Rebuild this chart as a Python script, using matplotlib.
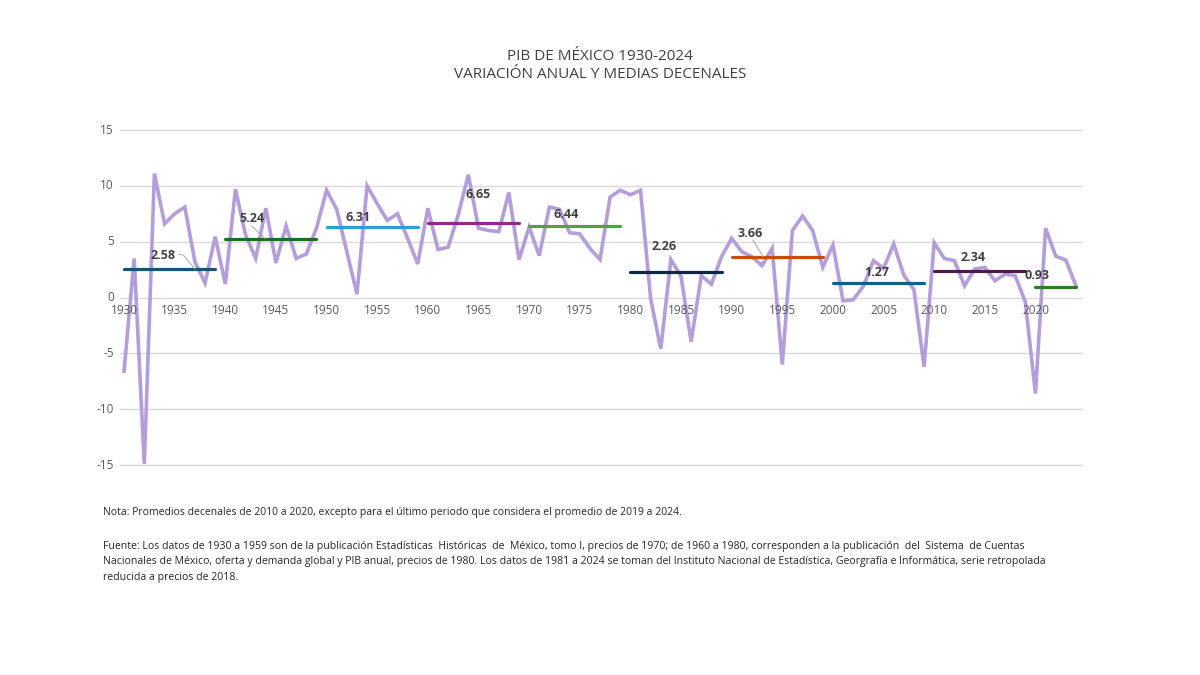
import numpy as np
import matplotlib
matplotlib.use("Agg")
from matplotlib import pyplot as plt

# variacion anual del PIB (%)
years = list(range(1930, 2025))
pib = [
    -6.6, 3.5, -14.9, 11.1, 6.6, 7.5, 8.1, 3.2, 1.3, 5.45,
    1.2, 9.7, 5.6, 3.5, 8.0, 3.1, 6.4, 3.5, 3.9, 6.2,
    9.6, 7.9, 4.1, 0.3, 10.0, 8.4, 6.9, 7.5, 5.3, 3.0,
    8.0, 4.3, 4.5, 7.4, 11.0, 6.2, 6.0, 5.9, 9.4, 3.4,
    6.3, 3.75, 8.1, 7.9, 5.8, 5.7, 4.4, 3.4, 9.0, 9.6,
    9.2, 9.6, -0.1, -4.6, 3.4, 1.9, -3.95, 1.95, 1.2, 3.65,
    5.3, 4.1, 3.65, 2.85, 4.4, -6.0, 6.0, 7.3, 6.0, 2.7,
    4.7, -0.3, -0.2, 1.0, 3.3, 2.6, 4.8, 2.0, 0.7, -6.2,
    4.9, 3.5, 3.3, 1.05, 2.55, 2.7, 1.5, 2.1, 1.95, -0.4,
    -8.6, 6.2, 3.7, 3.35, 1.05,
]

# medias decenales
dec_start = [1930, 1940, 1950, 1960, 1970, 1980, 1990, 2000, 2010, 2020]
dec_end = [1939, 1949, 1959, 1969, 1979, 1989, 1999, 2009, 2019, 2024]
dec_mean = [2.58, 5.24, 6.31, 6.65, 6.44, 2.26, 3.66, 1.27, 2.34, 0.93]
dec_colors = ["#1F4E79", "#1E6B23", "#2E9FD3", "#8E2A8E", "#4EA72E",
              "#0E2841", "#C04F15", "#156082", "#4E1A4A", "#2F7A23"]

# posicion de las etiquetas (centro del texto)
label_pos = [(1933.8, 3.8), (1942.6, 7.1), (1953.1, 7.2), (1965.0, 9.2),
             (1973.7, 7.4), (1983.3, 4.55), (1991.8, 5.75), (2004.3, 2.25),
             (2013.8, 3.6), (2020.2, 1.95)]
# lineas guia de algunas etiquetas
leaders = {
    0: [(1935.4, 3.87), (1935.85, 3.8), (1937.0, 2.55)],
    1: [(1942.6, 6.4), (1943.9, 5.3)],
    6: [(1992.1, 5.15), (1993.1, 3.65)],
}

ticks_x = list(range(1930, 2021, 5))
ticks_y = [-15, -10, -5, 0, 5, 10, 15]

plt.rcParams['font.family'] = ['Open Sans', 'DejaVu Sans']

fig = plt.figure(figsize=(12, 6.75), dpi=100)
ax = fig.add_axes([0.1, 0.3111, 0.8017, 0.4963])

for t in ticks_y:
    ax.axhline(t, color="#D9D9D9", lw=1.0, zorder=0, clip_on=False)
    ax.text(1929.0, t, str(t), ha="right", va="center", fontsize=8.5, color="#595959")

ax.plot(years, pib, color="#B39DDB", lw=2.6, solid_joinstyle="miter", zorder=2,
        clip_on=False)

for i in range(len(dec_mean)):
    ax.plot([dec_start[i], dec_end[i]], [dec_mean[i], dec_mean[i]],
            color=dec_colors[i], lw=2.3, solid_capstyle="round", zorder=3)
    lx, ly = label_pos[i]
    ax.text(lx, ly, f"{dec_mean[i]:.2f}", ha="center", va="center",
            fontsize=9, fontweight="bold", color="#404040", zorder=4)

for k, pts in leaders.items():
    xs, ys = zip(*pts)
    ax.plot(xs, ys, color="#A6A6A6", lw=0.7, zorder=3)

for t in ticks_x:
    ax.text(t, -0.6, str(t), ha="center", va="top", fontsize=8.5, color="#595959")

ax.set_xlim(1929.6, 2024.6)
ax.set_ylim(-15, 15)
ax.axis("off")

fig.text(0.5, 0.9105, "PIB DE MÉXICO 1930-2024", ha="center", va="baseline",
         fontsize=11, color="#404040")
fig.text(0.5, 0.884, "VARIACIÓN ANUAL Y MEDIAS DECENALES", ha="center", va="baseline",
         fontsize=11, color="#404040")

nota = ("Nota: Promedios decenales de 2010 a 2020, excepto para el último periodo "
        "que considera el promedio de 2019 a 2024.")
fuente = ("Fuente: Los datos de 1930 a 1959 son de la publicación Estadísticas  Históricas  de  México, "
          "tomo I, precios de 1970; de 1960 a 1980, corresponden a la publicación  del  Sistema  de Cuentas\n"
          "Nacionales de México, oferta y demanda global y PIB anual, precios de 1980. Los datos de 1981 a 2024 "
          "se toman del Instituto Nacional de Estadística, Georgrafía e Informática, serie retropolada\n"
          "reducida a precios de 2018.")
fig.text(0.086, 0.241, nota, ha="left", va="center", fontsize=7.45, color="#262626")
fig.text(0.086, 0.199, fuente, ha="left", va="top", fontsize=7.55, color="#262626",
         linespacing=1.6)

fig.savefig("out.png", dpi=100, facecolor="white")
